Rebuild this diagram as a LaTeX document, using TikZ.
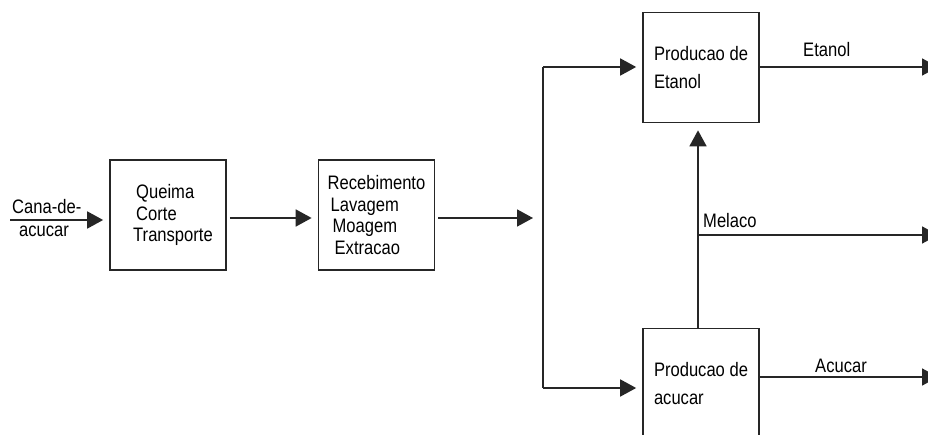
\documentclass[tikz,border=0pt]{standalone}
\usepackage{fontspec}
\setmainfont[FakeStretch=0.85]{Liberation Sans}
\usetikzlibrary{arrows.meta}
\begin{document}
\begin{tikzpicture}[x=1pt,y=-1pt,
  ink/.style={draw=black!85, line width=1.7pt},
  flow/.style={ink, -{Triangle[length=16pt,width=17pt]}},
  procbox/.style={ink, rectangle, minimum width=116pt, minimum height=110pt,
    inner sep=0pt, align=left, font=\fontsize{19.5}{21.5}\selectfont},
  prodbox/.style={procbox, font=\fontsize{19.5}{28}\selectfont},
  lbl/.style={inner sep=0pt, anchor=base west, font=\fontsize{19.5}{21.5}\selectfont}]
\useasboundingbox (0,0) rectangle (928,435);
\clip (0,0) rectangle (928,435);
\fill[white] (0,0) rectangle (928,435);

% process blocks
\node[procbox] (b1) at (168,215) {\hspace*{13pt}Queima\\\hspace*{13pt}Corte\\\hspace*{10pt}Transporte};
\node[procbox] (b2) at (376.5,215) {Recebimento\\\hspace*{3pt}Lavagem\\\hspace*{5pt}Moagem\\\hspace*{7pt}Extracao};
\node[prodbox] (b3) at (701,67.5) {Producao de\\Etanol};
\node[prodbox] (b4) at (701,383.5) {Producao de\\acucar};

% branch points and free ends
\coordinate (src) at (10,220);
\coordinate (jn) at (543,218);
\coordinate (jtop) at (543,67);
\coordinate (jbot) at (543,388);
\coordinate (mx) at (698,235);
\coordinate (outE) at (938,67);
\coordinate (outM) at (938,235);
\coordinate (outA) at (938,377);

% main line
\draw[flow, shorten >=6pt] (src) -- (b1.west |- src);
\draw[flow, shorten <=3pt, shorten >=6pt] (b1.east |- jn) -- (b2.west |- jn);
\draw[flow, shorten <=3pt, shorten >=10pt] (b2.east |- jn) -- (jn);

% split to ethanol and sugar production
\draw[ink] (jtop) -- (jbot);
\draw[flow, shorten >=6pt] (jtop) -- (b3.west |- jtop);
\draw[flow, shorten >=6pt] (jbot) -- (b4.west |- jbot);

% molasses from sugar to ethanol
\draw[flow, shorten >=7pt] (b4.north -| mx) -- (b3.south -| mx);
\draw[flow] (mx) -- (outM);

% products
\draw[flow] (b3.east |- outE) -- (outE);
\draw[flow] (b4.east |- outA) -- (outA);

% labels
\node[lbl] (lcana) at (12,214) {Cana-de-};
\node[lbl] (lacu) at (19,237) {acucar};
\node[lbl] (letan) at (803,57) {Etanol};
\node[lbl] (lmel) at (703,228) {Melaco};
\node[lbl] (lacucar) at (815,372) {Acucar};
\end{tikzpicture}
\end{document}
